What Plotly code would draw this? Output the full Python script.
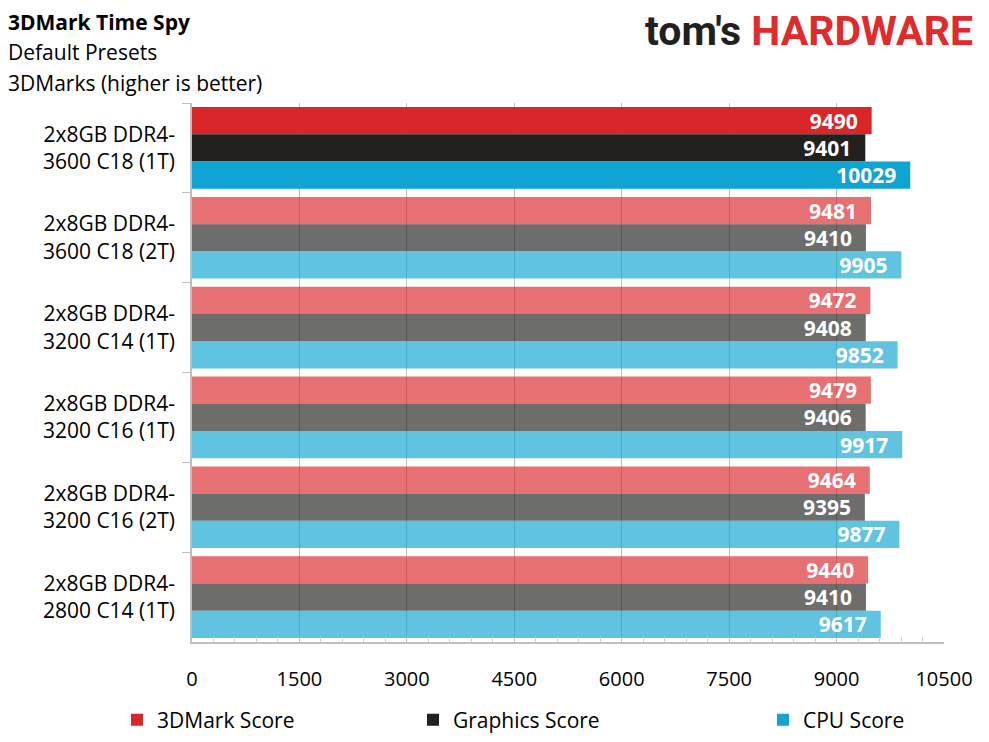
import plotly.graph_objects as go

categories = [
    "2x8GB DDR4-<br>3600 C18 (1T)",
    "2x8GB DDR4-<br>3600 C18 (2T)",
    "2x8GB DDR4-<br>3200 C14 (1T)",
    "2x8GB DDR4-<br>3200 C16 (1T)",
    "2x8GB DDR4-<br>3200 C16 (2T)",
    "2x8GB DDR4-<br>2800 C14 (1T)",
]
mark_score = [9490, 9481, 9472, 9479, 9464, 9440]
graphics_score = [9401, 9410, 9408, 9406, 9395, 9410]
cpu_score = [10029, 9905, 9852, 9917, 9877, 9617]

series = [
    ("3DMark Score", mark_score, (217, 38, 41), "legend"),
    ("Graphics Score", graphics_score, (34, 33, 32), "legend2"),
    ("CPU Score", cpu_score, (14, 165, 210), "legend3"),
]

FONT = "Open Sans"
PAGE = 8  # default body margin of the html page
W, H = 989 - PAGE, 742 - PAGE
# plot area in screen pixels: x 192..944, y 103..642
L, R, T, B = 192 - PAGE, 989 - 944, 103 - PAGE, 742 - 642


def px(x):
    return (x - PAGE - L) / (W - L - R)


def py(y):
    return (H - B - (y - PAGE)) / (H - T - B)


def cx(x):
    return (x - PAGE) / W


def cy(y):
    return 1 - (y - PAGE) / H


fig = go.Figure()

for name, vals, rgb, leg in series:
    # first config highlighted, the rest faded
    colors = ["rgb(%d,%d,%d)" % rgb] + ["rgba(%d,%d,%d,0.66)" % rgb] * (len(vals) - 1)
    fig.add_trace(go.Bar(
        y=categories, x=vals, name=name, orientation="h",
        marker=dict(color=colors, line=dict(width=0)),
        texttemplate="%{x:d}\u00a0\u00a0",
        textposition="inside", insidetextanchor="end", constraintext="none",
        textfont=dict(family=FONT, size=21, color="white", weight="bold"),
        legend=leg, showlegend=True,
    ))

legend_style = dict(orientation="h", xref="container", yref="container", yanchor="middle", y=cy(720),
                    xanchor="left", visible=True,
                    font=dict(family=FONT, size=21, color="black"), bgcolor="rgba(0,0,0,0)")

fig.update_layout(
    width=W, height=H,
    margin=dict(l=L, r=R, t=T, b=B),
    barmode="group", bargap=0.09, bargroupgap=0,
    plot_bgcolor="white", paper_bgcolor="white",
    font=dict(family=FONT, size=21, color="black"),
    showlegend=True,
    legend=dict(legend_style, x=cx(117)),
    legend2=dict(legend_style, x=cx(413)),
    legend3=dict(legend_style, x=cx(763)),
    xaxis=dict(range=[0, 10500], dtick=1500, tick0=0, tickformat="d", automargin=False,
               showgrid=True, gridcolor="#BFBFBF", gridwidth=1,
               showline=True, linecolor="#BFBFBF", linewidth=1.5, zeroline=False,
               ticks="inside", ticklen=5, tickcolor="#BFBFBF",
               minor=dict(dtick=300, ticks="inside", ticklen=5, tickcolor="#D0D0D0", showgrid=False),
               ticklabelstandoff=18, tickfont=dict(family=FONT, size=20, color="black")),
    yaxis=dict(autorange="reversed", automargin=False, showline=True, linecolor="#BFBFBF", linewidth=1.5,
               ticks="outside", tickson="boundaries", ticklen=8, tickcolor="#BFBFBF",
               ticklabelstandoff=11, showgrid=False,
               tickfont=dict(family=FONT, size=21, color="black")),
)

titles = [("<b>3DMark Time Spy</b>", 22), ("Default Presets", 52), ("3DMarks (higher is better)", 83)]
for txt, y in titles:
    fig.add_annotation(text=txt, xref="paper", yref="paper", x=px(6), y=py(y),
                       xanchor="left", yanchor="middle", showarrow=False,
                       font=dict(family=FONT, size=21, color="black"))

fig.add_annotation(
    text="<b>tom's</b> <b><span style='color:#E02A2C'>HARDWARE</span></b>",
    xref="paper", yref="paper", x=px(975), y=py(31), xanchor="right", yanchor="middle",
    showarrow=False, font=dict(family="Roboto", size=41, color="#231F20"),
)

fig.write_html("out.html")
